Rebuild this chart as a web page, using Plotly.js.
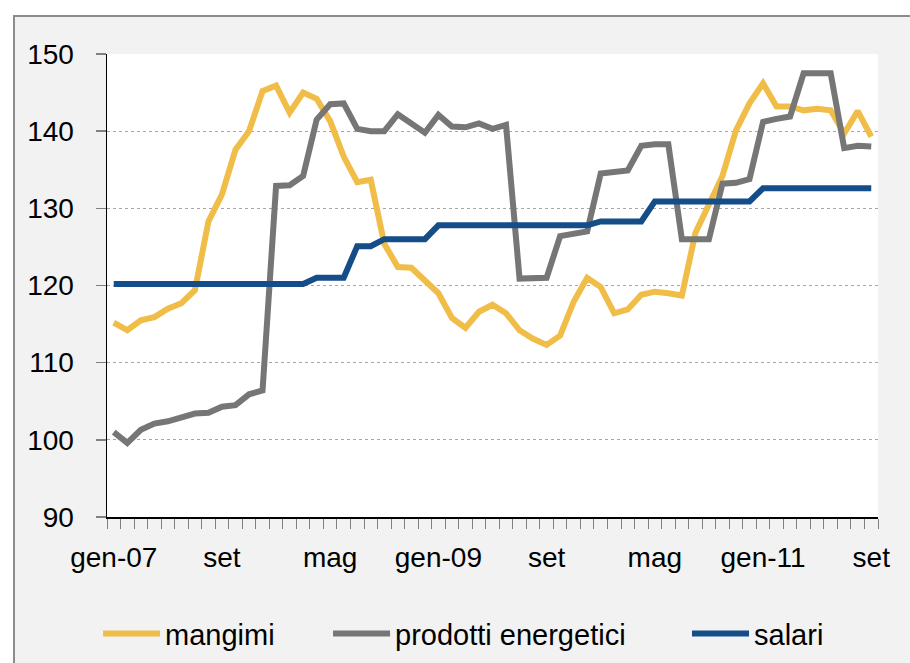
<!DOCTYPE html>
<html>
<head>
<meta charset="utf-8">
<script src="https://cdn.plot.ly/plotly-3.0.1.min.js"></script>
<style>
html, body { margin:0; padding:0; background:#ffffff; overflow:hidden; width:910px; height:663px; }
#frame { position:absolute; left:13px; top:15px; width:910px; height:663px; border-left:2px solid #8c8c8c; border-top:2px solid #8c8c8c; background:#f2f2f2; }
#chart { position:absolute; left:0; top:0; width:910px; height:663px; }
</style>
</head>
<body>
<div id="frame"></div>
<div id="chart"></div>
<script>
// Categories (monthly, Jan 2007 - Sep 2011)
const months = [
  'gen-07','feb-07','mar-07','apr-07','mag-07','giu-07','lug-07','ago-07','set-07','ott-07','nov-07','dic-07',
  'gen-08','feb-08','mar-08','apr-08','mag-08','giu-08','lug-08','ago-08','set-08','ott-08','nov-08','dic-08',
  'gen-09','feb-09','mar-09','apr-09','mag-09','giu-09','lug-09','ago-09','set-09','ott-09','nov-09','dic-09',
  'gen-10','feb-10','mar-10','apr-10','mag-10','giu-10','lug-10','ago-10','set-10','ott-10','nov-10','dic-10',
  'gen-11','feb-11','mar-11','apr-11','mag-11','giu-11','lug-11','ago-11','set-11'
];

// Axis tick labels (every 8th month)
const tickLabels = ['gen-07','set','mag','gen-09','set','mag','gen-11','set'];
const tickStep = 8;

// Series
const mangimi = [
  115.2,114.2,115.5,115.9,117.0,117.7,119.4,128.3,131.8,137.6,140.0,145.2,
  145.9,142.4,145.0,144.2,141.3,136.7,133.4,133.7,125.4,122.4,122.3,120.6,
  119.0,115.8,114.5,116.6,117.5,116.4,114.2,113.1,112.3,113.5,117.9,121.0,
  119.8,116.4,116.9,118.8,119.2,119.0,118.7,126.8,130.6,134.2,140.1,143.6,
  146.2,143.2,143.2,142.7,142.9,142.7,139.7,142.6,139.3
];
const prodottiEnergetici = [
  101.0,99.6,101.3,102.1,102.4,103.0,103.4,103.5,104.3,104.5,105.9,106.4,
  132.9,133.0,134.2,141.5,143.5,143.6,140.3,140.0,140.0,142.2,141.1,139.8,
  142.1,140.6,140.5,141.0,140.3,140.8,120.9,121.0,121.0,126.4,126.8,127.0,
  134.5,134.7,134.9,138.1,138.3,138.3,126.0,126.0,126.0,133.2,133.3,133.8,
  141.2,141.6,141.9,147.5,147.5,147.5,137.8,138.1,138.0
];
const salari = [
  120.2,120.2,120.2,120.2,120.2,120.2,120.2,120.2,120.2,120.2,120.2,120.2,
  120.2,120.2,120.2,121.0,121.0,121.0,125.1,125.1,126.0,126.0,126.0,126.0,
  127.8,127.8,127.8,127.8,127.8,127.8,127.8,127.8,127.8,127.8,127.8,127.8,
  128.3,128.3,128.3,128.3,130.9,130.9,130.9,130.9,130.9,130.9,130.9,130.9,
  132.6,132.6,132.6,132.6,132.6,132.6,132.6,132.6,132.6
];

const xIdx = months.map((m, i) => i);
const tickVals = tickLabels.map((t, k) => k * tickStep);

const FONT = 'Liberation Sans, Arial, sans-serif';

const traces = [
  { x: xIdx, y: mangimi, text: months, name: 'mangimi', type: 'scatter', mode: 'lines',
    line: { color: '#f0bd48', width: 6 }, legend: 'legend' },
  { x: xIdx, y: prodottiEnergetici, text: months, name: 'prodotti energetici', type: 'scatter', mode: 'lines',
    line: { color: '#767676', width: 6 }, legend: 'legend2' },
  { x: xIdx, y: salari, text: months, name: 'salari', type: 'scatter', mode: 'lines',
    line: { color: '#154d89', width: 6 }, legend: 'legend3' }
];

const legendBase = {
  orientation: 'h', yanchor: 'middle', xanchor: 'left', y: -0.252,
  bgcolor: 'rgba(0,0,0,0)', font: { family: FONT, size: 29, color: '#000' },
  itemwidth: 57
};

const layout = {
  width: 910, height: 663,
  margin: { l: 107, r: 32, t: 54, b: 146, pad: 0, autoexpand: false },
  paper_bgcolor: 'rgba(0,0,0,0)',
  plot_bgcolor: '#ffffff',
  font: { family: FONT, size: 28, color: '#000' },
  showlegend: true,
  legend: Object.assign({}, legendBase, { x: -0.0116 }),
  legend2: Object.assign({}, legendBase, { x: 0.2867 }),
  legend3: Object.assign({}, legendBase, { x: 0.7523 }),
  xaxis: {
    type: 'linear', range: [-0.5, 56.5], fixedrange: true,
    tickmode: 'array', tickvals: tickVals, ticktext: tickLabels,
    ticks: '', showgrid: false, zeroline: false,
    showline: true, linecolor: '#000', linewidth: 1.5,
    tickfont: { family: FONT, size: 28, color: '#000' },
    ticklabelstandoff: 15,
    minor: { tick0: -0.5, dtick: 1, ticks: 'outside', ticklen: 10, tickcolor: '#808080', tickwidth: 1, showgrid: false }
  },
  yaxis: {
    range: [90, 150], dtick: 10, tick0: 90, fixedrange: true,
    ticks: 'outside', ticklen: 10, tickcolor: '#808080', tickwidth: 1.5,
    showgrid: true, gridcolor: '#a6a6a6', griddash: 'dot', gridwidth: 1,
    zeroline: false, showline: true, linecolor: '#000', linewidth: 1.5,
    tickfont: { family: FONT, size: 28, color: '#000' },
    ticklabelstandoff: 16
  }
};

Plotly.newPlot('chart', traces, layout, { displayModeBar: false, staticPlot: true });
</script>
</body>
</html>
